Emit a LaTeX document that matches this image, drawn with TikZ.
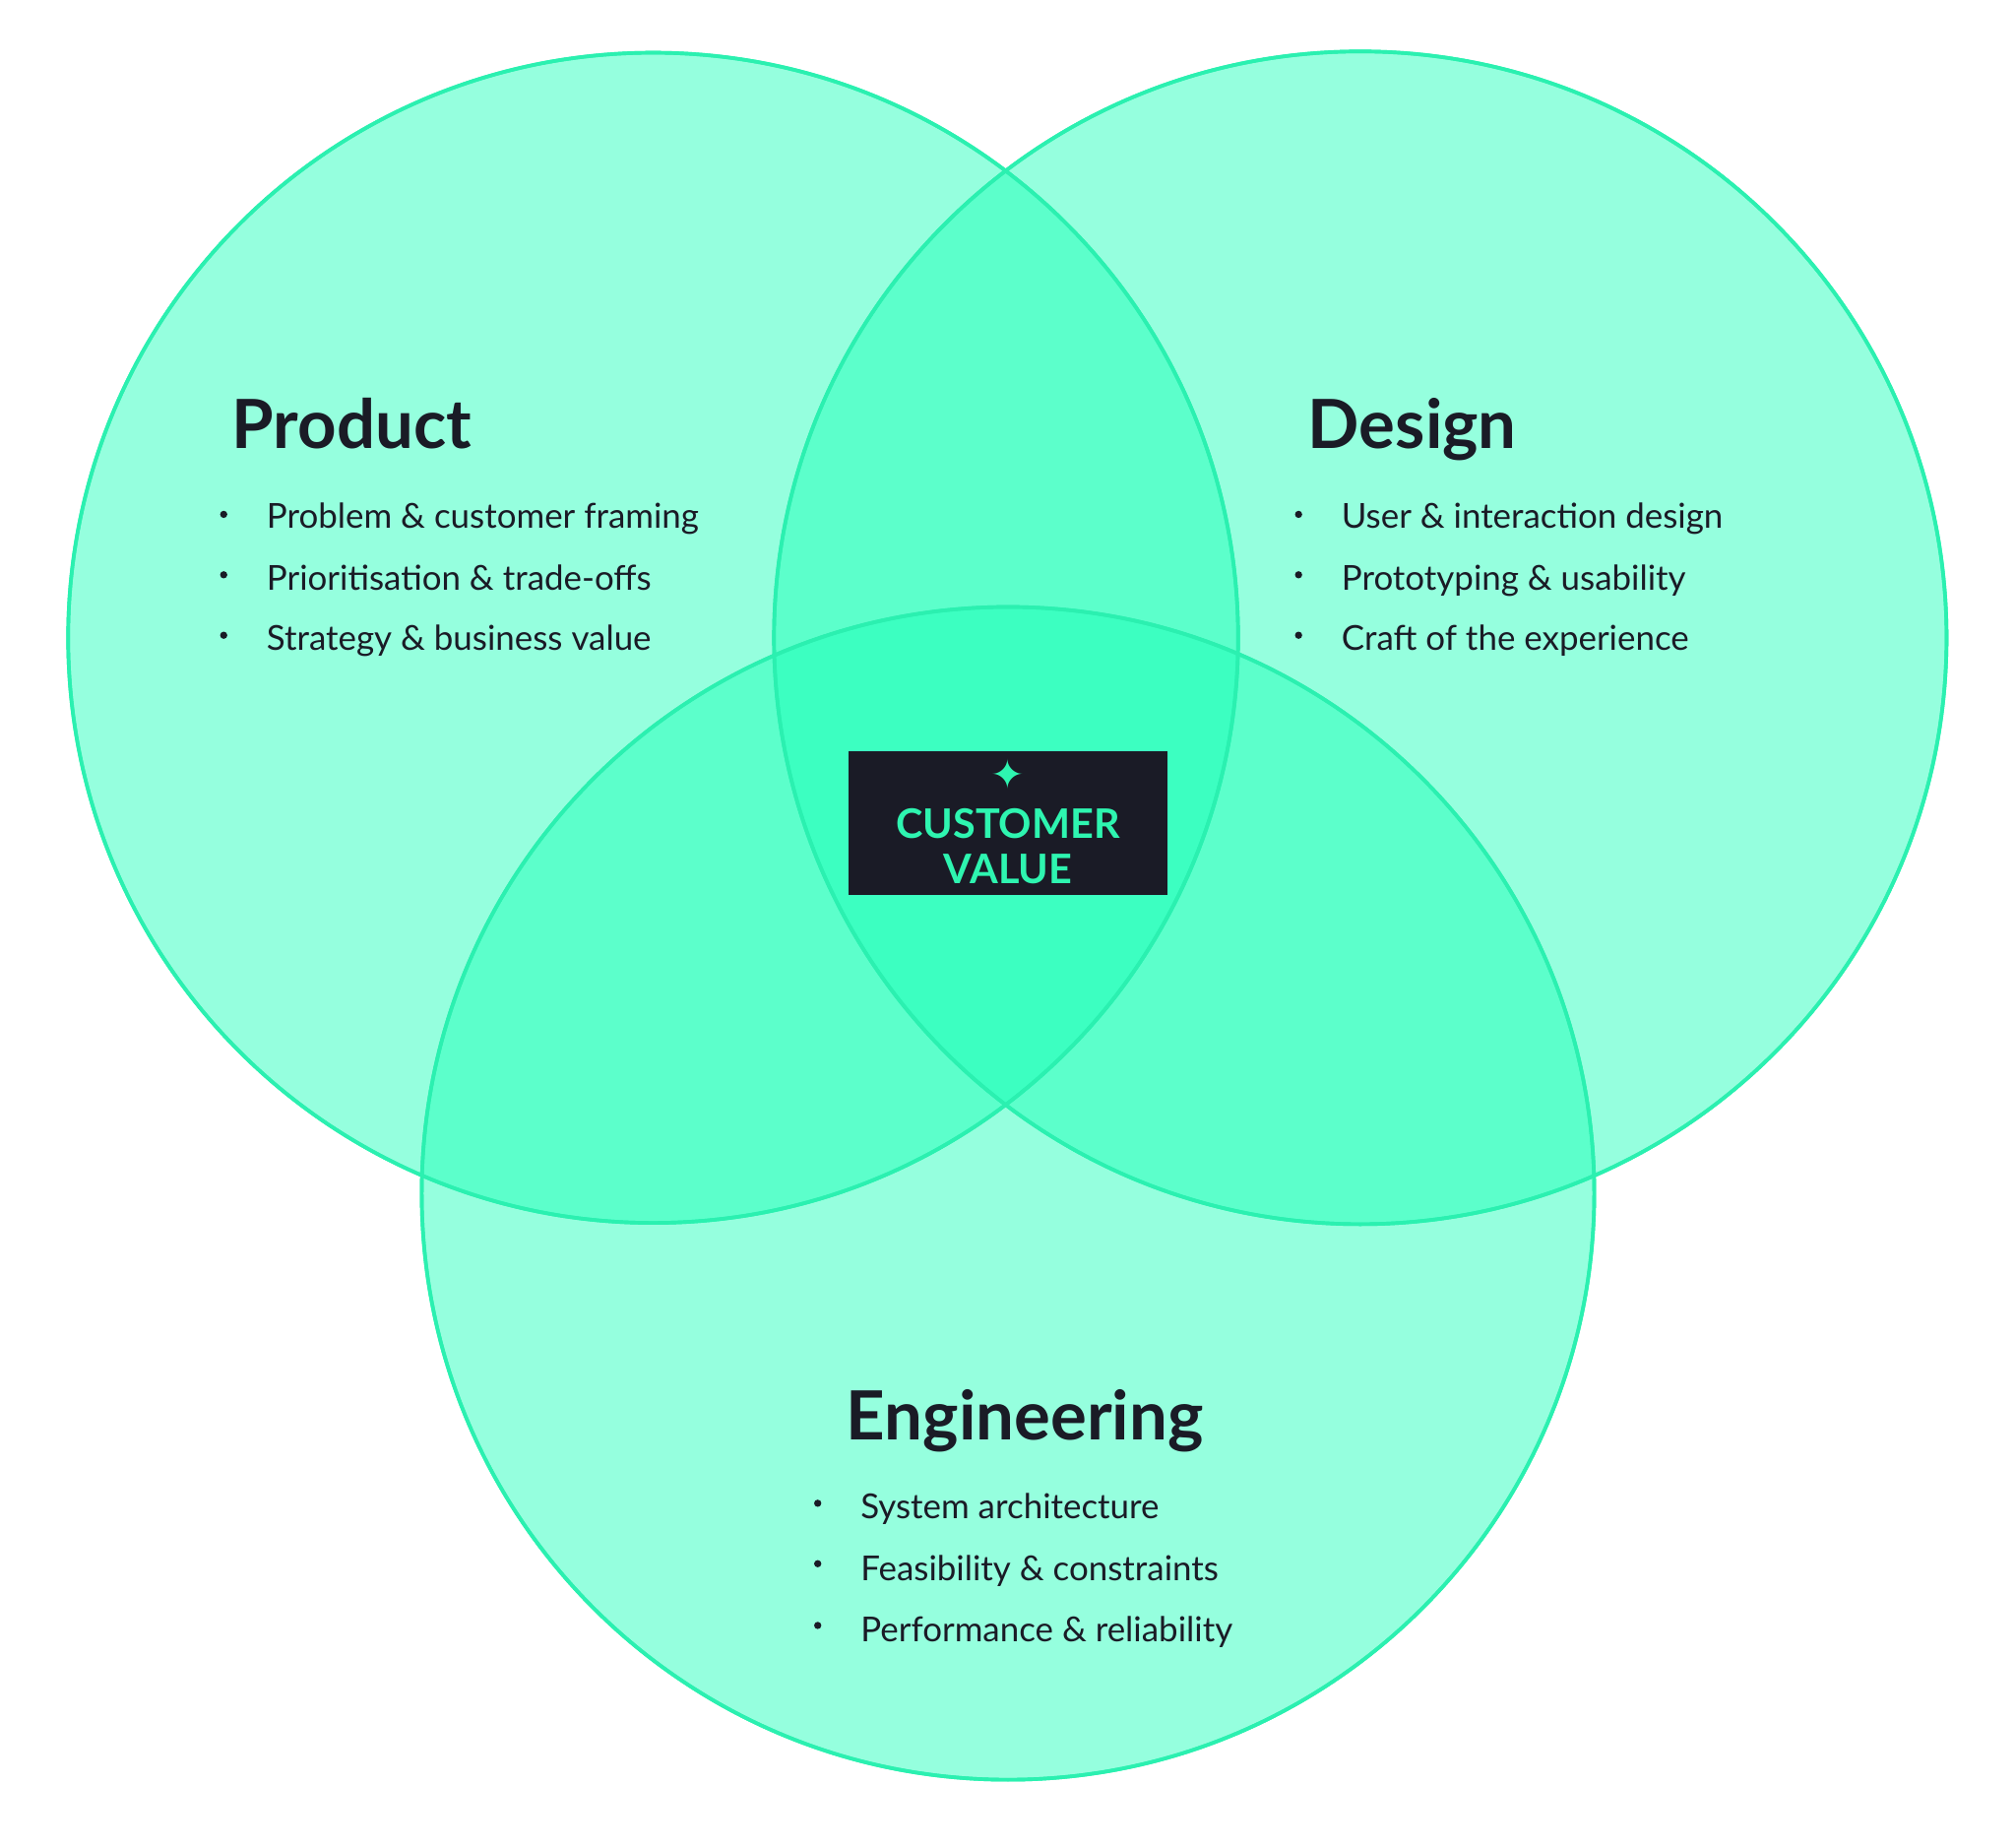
\documentclass[tikz,border=0pt]{standalone}
\usepackage{fontspec}
\setmainfont{Lato}
\newfontfamily\symfont{DejaVu Sans}
\usetikzlibrary{positioning}
\definecolor{mint}{RGB}{21,255,181}
\definecolor{mintline}{RGB}{43,240,176}
\definecolor{ink}{RGB}{26,27,38}
\definecolor{accent}{RGB}{46,245,176}

\begin{document}
\begin{tikzpicture}[
x = 0.01cm, y = -0.01cm,
every node/.style = {
	text = ink
},
set/.style = {
	fill = mint,
	fill opacity = .45,
	draw = mintline,
	line width = .8pt
},
title/.style = {
	anchor = base west,
	font = \bfseries\fontsize{15}{18}\selectfont
},
item/.style = {
	anchor = base west,
	font = \fontsize{7.6}{9}\selectfont
},
dot/.style = {
	circle,
	fill = ink,
	inner sep = 0pt,
	minimum size = 1.6pt
}
]
\useasboundingbox (0,0) rectangle (1568,1437);

\fill[set] (508,496) circle (455);
\fill[set] (1058,496) circle (456);
\fill[set] (784,928) circle (456);
\draw[mintline, line width=.8pt] (508,496) circle (455) (1058,496) circle (456) (784,928) circle (456);

% product
\node (product) [title] at (168,349) {Product};
\node (product_1) [item] at (195,411) {Problem \& customer framing};
\node (product_2) [item] at (195,459) {Prioritisation \& trade-offs};
\node (product_3) [item] at (195,506) {Strategy \& business value};
\node [dot] at (174,400) {};
\node [dot] at (174,447) {};
\node [dot] at (174,494) {};

% design
\node (design) [title] at (1005,349) {Design};
\node (design_1) [item] at (1031,411) {User \& interaction design};
\node (design_2) [item] at (1031,459) {Prototyping \& usability};
\node (design_3) [item] at (1031,506) {Craft of the experience};
\node [dot] at (1010,400) {};
\node [dot] at (1010,447) {};
\node [dot] at (1010,494) {};

% engineering
\node (engineering) [title] at (646,1120) {Engineering};
\node (engineering_1) [item] at (657,1181) {System architecture};
\node (engineering_2) [item] at (657,1229) {Feasibility \& constraints};
\node (engineering_3) [item] at (657,1277) {Performance \& reliability};
\node [dot] at (636,1169) {};
\node [dot] at (636,1216) {};
\node [dot] at (636,1264) {};

% centre
\fill[ink] (660,584) rectangle (908,696);
\node (star) [text=accent, font=\symfont\fontsize{9}{10}\selectfont] at (784,602) {✦};
\node (value) [text=accent, align=center, font=\bfseries\fontsize{9}{10}\selectfont] at (784,658) {CUSTOMER\\VALUE};

\end{tikzpicture}
\end{document}
